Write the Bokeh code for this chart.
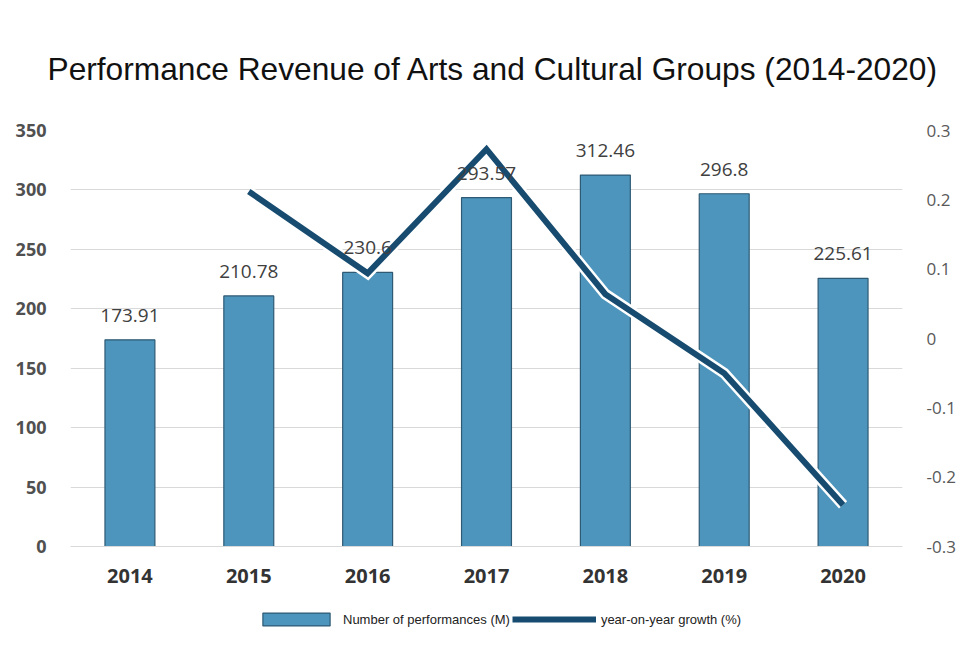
from bokeh.plotting import figure
from bokeh.layouts import column
from bokeh.models import (ColumnDataSource, Range1d, LinearAxis, FixedTicker,
                          CustomJSTickFormatter, Legend, LegendItem, LabelSet, Title)
from bokeh.embed import file_html
from bokeh.resources import INLINE
from bokeh.core.properties import value

# ---- data ----
years = ["2014", "2015", "2016", "2017", "2018", "2019", "2020"]
revenue = [173.91, 210.78, 230.6, 293.57, 312.46, 296.8, 225.61]
revenue_labels = ["173.91", "210.78", "230.6", "293.57", "312.46", "296.8", "225.61"]
growth_years = ["2015", "2016", "2017", "2018", "2019", "2020"]
growth = [0.212, 0.094, 0.273, 0.064, -0.050, -0.240]
left_ticks = [0, 50, 100, 150, 200, 250, 300, 350]
right_ticks = [-0.3, -0.2, -0.1, 0.0, 0.1, 0.2, 0.3]
title_text = "Performance Revenue of Arts and Cultural Groups (2014-2020)"
bar_legend = "Number of performances (M)"
line_legend = "year-on-year growth (%)"

BAR_FILL = "#4d95bc"
BAR_LINE = "#2e5a74"
LINE_COLOR = "#174c70"

bar_src = ColumnDataSource(dict(year=years, rev=revenue, lab=revenue_labels))
line_src = ColumnDataSource(dict(year=growth_years, g=growth))

p = figure(width=958, height=596, x_range=years, y_range=Range1d(0, 350),
           output_backend="svg", toolbar_location=None,
           min_border_left=70, min_border_right=55, min_border_top=130, min_border_bottom=50)
p.extra_y_ranges = {"g": Range1d(-0.3, 0.3)}

p.title = Title(text=title_text, text_font="Liberation Sans", text_font_size="31.7px",
                text_font_style="normal", text_color="#111111", align="left",
                standoff=87, offset=-23)

bars = p.vbar(x="year", top="rev", width=0.42, source=bar_src,
              fill_color=BAR_FILL, line_color=BAR_LINE, line_width=1.2)

labels = LabelSet(x="year", y="rev", text="lab", source=bar_src, y_offset=18,
                  text_align="center", text_baseline="bottom",
                  text_font=value("Open Sans"), text_font_size="19px", text_color="#404040")
p.add_layout(labels)

p.line(x="year", y="g", source=line_src, y_range_name="g",
       line_width=11, line_color="white", line_join="miter")
p.line(x="year", y="g", source=line_src, y_range_name="g",
       line_width=6, line_color=LINE_COLOR, line_join="miter")

# axes
p.yaxis.ticker = FixedTicker(ticks=left_ticks)
p.yaxis.axis_line_color = None
p.yaxis.major_tick_line_color = None
p.yaxis.minor_tick_line_color = None
p.yaxis.major_label_text_font = "Open Sans"
p.yaxis.major_label_text_font_size = "18px"
p.yaxis.major_label_text_font_style = "bold"
p.yaxis.major_label_text_color = "#505050"
p.yaxis.major_label_standoff = 18

ra = LinearAxis(y_range_name="g", ticker=FixedTicker(ticks=right_ticks),
                formatter=CustomJSTickFormatter(code="""
                    var s = tick.toFixed(1);
                    return (s == "0.0" || s == "-0.0") ? "0" : s;"""))
ra.axis_line_color = None
ra.major_tick_line_color = None
ra.minor_tick_line_color = None
ra.major_label_text_font = "Open Sans"
ra.major_label_text_font_size = "17px"
ra.major_label_text_color = "#595959"
ra.major_label_standoff = 18
p.add_layout(ra, "right")

p.xaxis.axis_line_color = "#d9d9d9"
p.xaxis.major_tick_line_color = None
p.xaxis.minor_tick_line_color = None
p.xaxis.major_label_text_font = "Open Sans"
p.xaxis.major_label_text_font_size = "20px"
p.xaxis.major_label_text_font_style = "bold"
p.xaxis.major_label_text_color = "#333333"
p.xaxis.major_label_standoff = 16

p.xgrid.grid_line_color = None
p.ygrid.grid_line_color = "#d9d9d9"
p.outline_line_color = None
p.x_range.range_padding = 0.0

# legend strip: a small figure under the chart; its glyphs use the same data
# but lie outside its visible range, so only the legend is seen
lf = figure(width=958, height=54, x_range=years, y_range=Range1d(1000, 1001),
            x_axis_type=None, y_axis_type=None,
            output_backend="svg", toolbar_location=None, min_border=0,
            min_border_left=0, min_border_right=0, min_border_top=0, min_border_bottom=0)
lf.grid.grid_line_color = None
lf.outline_line_color = None
lb = lf.vbar(x="year", top="rev", width=0.42, source=bar_src,
             fill_color=BAR_FILL, line_color=BAR_LINE, line_width=1.2)
ll = lf.line(x="year", y="g", source=line_src, line_width=6, line_color=LINE_COLOR)
legend = Legend(items=[LegendItem(label=bar_legend, renderers=[lb]),
                       LegendItem(label=line_legend, renderers=[ll])],
                orientation="horizontal", location=(184, 23),
                border_line_color=None, background_fill_alpha=0,
                glyph_width=84, glyph_height=16, label_text_font="Liberation Sans",
                label_text_font_size="13px", label_text_color="#222222",
                spacing=2, padding=4, margin=0)
lf.add_layout(legend)

layout = column(p, lf, spacing=0)
open("out.html", "w").write(file_html(layout, INLINE))
